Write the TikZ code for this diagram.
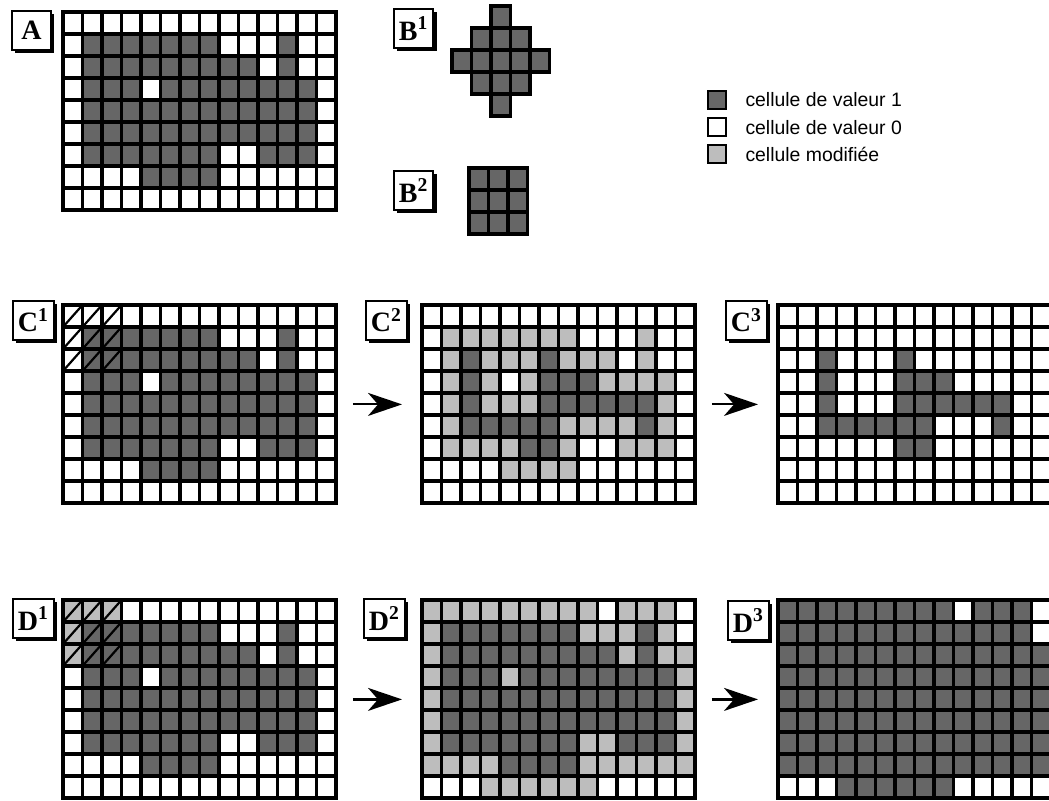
\documentclass[tikz,border=0pt]{standalone}
\usepackage{fontspec}
\setmainfont{Liberation Serif}
\newfontfamily\keyfont{Liberation Sans}
\usetikzlibrary{arrows.meta, positioning, shadows}

\definecolor{cellone}{gray}{0.40}
\definecolor{cellmod}{gray}{0.74}

\newcommand\gridA{%
{0,0,0,0,0,0,0,0,0,0,0,0,0,0},%
{0,1,1,1,1,1,1,1,0,0,0,1,0,0},%
{0,1,1,1,1,1,1,1,1,1,0,1,0,0},%
{0,1,1,1,0,1,1,1,1,1,1,1,1,0},%
{0,1,1,1,1,1,1,1,1,1,1,1,1,0},%
{0,1,1,1,1,1,1,1,1,1,1,1,1,0},%
{0,1,1,1,1,1,1,1,0,0,1,1,1,0},%
{0,0,0,0,1,1,1,1,0,0,0,0,0,0},%
{0,0,0,0,0,0,0,0,0,0,0,0,0,0}}
\newcommand\gridBa{%
{x,x,1,x,x},%
{x,1,1,1,x},%
{1,1,1,1,1},%
{x,1,1,1,x},%
{x,x,1,x,x}}
\newcommand\gridBb{%
{1,1,1},%
{1,1,1},%
{1,1,1}}
\newcommand\gridCb{%
{0,0,0,0,0,0,0,0,0,0,0,0,0,0},%
{0,2,2,2,2,2,2,2,0,0,0,2,0,0},%
{0,2,1,2,2,2,1,2,2,2,0,2,0,0},%
{0,2,1,2,0,2,1,1,1,2,2,2,2,0},%
{0,2,1,2,2,2,1,1,1,1,1,1,2,0},%
{0,2,1,1,1,1,1,2,2,2,2,1,2,0},%
{0,2,2,2,2,1,1,2,0,0,2,2,2,0},%
{0,0,0,0,2,2,2,2,0,0,0,0,0,0},%
{0,0,0,0,0,0,0,0,0,0,0,0,0,0}}
\newcommand\gridCc{%
{0,0,0,0,0,0,0,0,0,0,0,0,0,0},%
{0,0,0,0,0,0,0,0,0,0,0,0,0,0},%
{0,0,1,0,0,0,1,0,0,0,0,0,0,0},%
{0,0,1,0,0,0,1,1,1,0,0,0,0,0},%
{0,0,1,0,0,0,1,1,1,1,1,1,0,0},%
{0,0,1,1,1,1,1,1,0,0,0,1,0,0},%
{0,0,0,0,0,0,1,1,0,0,0,0,0,0},%
{0,0,0,0,0,0,0,0,0,0,0,0,0,0},%
{0,0,0,0,0,0,0,0,0,0,0,0,0,0}}
\newcommand\gridDa{%
{2,2,2,0,0,0,0,0,0,0,0,0,0,0},%
{2,1,1,1,1,1,1,1,0,0,0,1,0,0},%
{2,1,1,1,1,1,1,1,1,1,0,1,0,0},%
{0,1,1,1,0,1,1,1,1,1,1,1,1,0},%
{0,1,1,1,1,1,1,1,1,1,1,1,1,0},%
{0,1,1,1,1,1,1,1,1,1,1,1,1,0},%
{0,1,1,1,1,1,1,1,0,0,1,1,1,0},%
{0,0,0,0,1,1,1,1,0,0,0,0,0,0},%
{0,0,0,0,0,0,0,0,0,0,0,0,0,0}}
\newcommand\gridDb{%
{2,2,2,2,2,2,2,2,2,0,2,2,2,0},%
{2,1,1,1,1,1,1,1,2,2,2,1,2,0},%
{2,1,1,1,1,1,1,1,1,1,2,1,2,2},%
{2,1,1,1,2,1,1,1,1,1,1,1,1,2},%
{2,1,1,1,1,1,1,1,1,1,1,1,1,2},%
{2,1,1,1,1,1,1,1,1,1,1,1,1,2},%
{2,1,1,1,1,1,1,1,2,2,1,1,1,2},%
{2,2,2,2,1,1,1,1,2,2,2,2,2,2},%
{0,0,0,2,2,2,2,2,2,0,0,0,0,0}}
\newcommand\gridDc{%
{1,1,1,1,1,1,1,1,1,0,1,1,1,0},%
{1,1,1,1,1,1,1,1,1,1,1,1,1,0},%
{1,1,1,1,1,1,1,1,1,1,1,1,1,1},%
{1,1,1,1,1,1,1,1,1,1,1,1,1,1},%
{1,1,1,1,1,1,1,1,1,1,1,1,1,1},%
{1,1,1,1,1,1,1,1,1,1,1,1,1,1},%
{1,1,1,1,1,1,1,1,1,1,1,1,1,1},%
{1,1,1,1,1,1,1,1,1,1,1,1,1,1},%
{0,0,0,1,1,1,1,1,1,0,0,0,0,0}}

\newcommand\cellgrid[5]{%
  \begin{scope}[shift={#1}]
    \foreach \row [count=\r from 0] in #2 {
      \foreach \v [count=\c from 0] in \row
        \path[cell\v] (\c*19.5,\r*22) rectangle ++(19.5,22);
    }
    \node[gridbox, minimum width=#4*9.75pt, minimum height=#5*11pt] (#3) at (0,0) {};
  \end{scope}}
\newcommand\hatchcorner[1]{%
  \begin{scope}[shift={#1}]
    \foreach \r in {0,1,2}
      \foreach \c in {0,1,2}
        \draw[hatch] (\c*19.5,\r*22+22) -- ++(19.5,-22);
  \end{scope}}

\begin{document}
\begin{tikzpicture}[
    x=0.5pt, y=-0.5pt,
    cell0/.style={draw=black, line width=1.55pt, fill=white},
    cell1/.style={cell0, fill=cellone},
    cell2/.style={cell0, fill=cellmod},
    cellx/.style={},
    gridbox/.style={anchor=north west, inner sep=0pt},
    hatch/.style={line width=1.1pt},
    lbl/.style={anchor=north west, draw=black, fill=white, line width=0.9pt, minimum width=19.5pt, minimum height=19.5pt, inner xsep=2.5pt, inner ysep=1pt, font=\bfseries\fontsize{14}{14}\selectfont, drop shadow={shadow xshift=1.7pt, shadow yshift=-1.7pt, fill=black, opacity=1}},
    key/.style={draw=black, line width=1.1pt, minimum size=9pt, inner sep=0pt},
    keytext/.style={anchor=west, inner sep=0pt, font=\keyfont\fontsize{9.7}{11}\selectfont},
    arrow/.style={-{Stealth[length=17pt, width=11.5pt, inset=5pt]}, line width=1.1pt, shorten <=8pt, shorten >=10pt}
]
\clip (0,0) rectangle (1049,801);

\cellgrid{(63,12)}{\gridA}{gA}{14}{9}
\cellgrid{(452,6)}{\gridBa}{gBa}{5}{5}
\cellgrid{(469,168)}{\gridBb}{gBb}{3}{3}

\cellgrid{(63,305)}{\gridA}{gCa}{14}{9}
\hatchcorner{(63,305)}
\cellgrid{(422,305)}{\gridCb}{gCb}{14}{9}
\cellgrid{(778,305)}{\gridCc}{gCc}{14}{9}

\cellgrid{(63,600)}{\gridDa}{gDa}{14}{9}
\hatchcorner{(63,600)}
\cellgrid{(422,600)}{\gridDb}{gDb}{14}{9}
\cellgrid{(778,600)}{\gridDc}{gDc}{14}{9}

\node[lbl] (lA) at (11,10) {A};
\node[lbl] (lBa) at (393,8) {B\textsuperscript{1}};
\node[lbl] (lBb) at (393,170) {B\textsuperscript{2}};
\node[lbl] (lCa) at (12,300) {C\textsuperscript{1}};
\node[lbl] (lCb) at (365,300) {C\textsuperscript{2}};
\node[lbl] (lCc) at (725,300) {C\textsuperscript{3}};
\node[lbl] (lDa) at (12,598) {D\textsuperscript{1}};
\node[lbl] (lDb) at (363,598) {D\textsuperscript{2}};
\node[lbl] (lDc) at (727,600) {D\textsuperscript{3}};

\node[key, fill=cellone] (k1) at (717,100) {};
\node[key, fill=white, below=3.5pt of k1] (k0) {};
\node[key, fill=cellmod, below=3.5pt of k0] (km) {};
\node[keytext, right=9pt of k1] (t1) {cellule de valeur 1};
\node[keytext, right=9pt of k0] (t0) {cellule de valeur 0};
\node[keytext, right=9pt of km] (tm) {cellule modifiée};

\draw[arrow] (gCa) -- (gCb);
\draw[arrow] (gCb) -- (gCc);
\draw[arrow] (gDa) -- (gDb);
\draw[arrow] (gDb) -- (gDc);

\end{tikzpicture}
\end{document}
